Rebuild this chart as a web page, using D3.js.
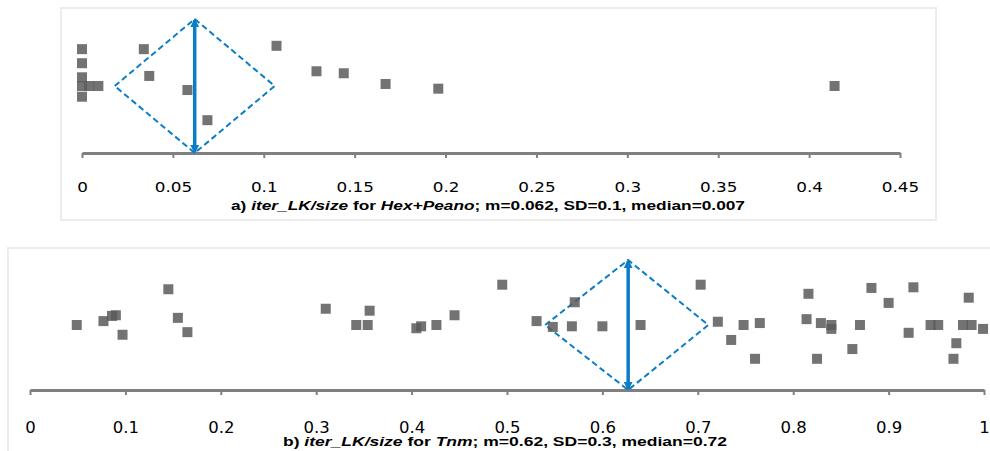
<!DOCTYPE html>
<html>
<head>
<meta charset="utf-8">
<script src="https://cdn.jsdelivr.net/npm/d3@7"></script>
<style>
  body { margin: 0; background: #fff; }
  svg { display: block; }
</style>
</head>
<body>
<div id="container"></div>
<script>
"use strict";

// panel a) Hex+Peano : iter_LK/size, with a vertical jitter for each point
var hexValues = [0, 0, 0, 0, 0.004, 0.009, 0, 0.034, 0.037, 0.058, 0.069, 0.107, 0.129, 0.144, 0.167, 0.196, 0.414];
var hexJitter = [1.55, 1.34, 1.13, 1.0, 1.0, 1.0, 0.84, 1.55, 1.15, 0.94, 0.49, 1.6, 1.22, 1.19, 1.03, 0.96, 1.0];
var hexStats = [0.018, 0.062, 0.106]; // diamond left, mean, right
var hexTicks = [0, 0.05, 0.1, 0.15, 0.2, 0.25, 0.3, 0.35, 0.4, 0.45];
var hexTickLabels = ["0", "0.05", "0.1", "0.15", "0.2", "0.25", "0.3", "0.35", "0.4", "0.45"];

// panel b) Tnm
var tnmValues = [0.049, 0.077, 0.086, 0.090, 0.097, 0.145, 0.155, 0.165, 0.310, 0.342, 0.354, 0.356,
    0.405, 0.410, 0.426, 0.445, 0.495, 0.531, 0.548, 0.571, 0.568, 0.600, 0.640, 0.703, 0.721, 0.735,
    0.748, 0.760, 0.765, 0.816, 0.814, 0.825, 0.829, 0.840, 0.840, 0.862, 0.870, 0.882, 0.900, 0.921,
    0.926, 0.944, 0.952, 0.968, 0.971, 0.978, 0.984, 0.987, 0.999];
var tnmJitter = [1.0, 1.06, 1.14, 1.15, 0.85, 1.55, 1.11, 0.89, 1.25, 1.0, 1.0, 1.22,
    0.95, 0.98, 1.0, 1.15, 1.62, 1.06, 0.97, 1.35, 0.98, 0.98, 1.0, 1.62, 1.05, 0.77,
    1.0, 0.48, 1.03, 1.48, 1.09, 0.48, 1.03, 1.0, 0.94, 0.63, 1.0, 1.57, 1.34, 0.88,
    1.58, 1.0, 1.0, 0.48, 0.72, 1.0, 1.42, 1.0, 0.94];
var tnmStats = [0.54, 0.627, 0.711];
var tnmTicks = [0, 0.1, 0.2, 0.3, 0.4, 0.5, 0.6, 0.7, 0.8, 0.9, 1];
var tnmTickLabels = ["0", "0.1", "0.2", "0.3", "0.4", "0.5", "0.6", "0.7", "0.8", "0.9", "1"];

var blue = "#0b7dc6";
var grey = "#808080";

var svg = d3.select("#container").append("svg")
    .attr("width", 990).attr("height", 451);

var defs = svg.append("defs");
defs.append("marker").attr("id", "arrow")
    .attr("viewBox", "0 0 10 10").attr("refX", 8).attr("refY", 5)
    .attr("markerWidth", 2.6).attr("markerHeight", 2.6)
    .attr("orient", "auto-start-reverse")
    .append("path").attr("d", "M0,0L10,5L0,10z").attr("fill", blue);

function panel(opt) {
    var g = svg.append("g");

    g.append("rect")
        .attr("x", opt.box[0]).attr("y", opt.box[1])
        .attr("width", opt.box[2]).attr("height", opt.box[3])
        .attr("fill", "none").attr("stroke", "#ececec").attr("stroke-width", 2);

    var x = d3.scaleLinear().domain([opt.ticks[0], opt.ticks[opt.ticks.length - 1]]).range(opt.xRange);
    var y = d3.scaleLinear().domain([0, 2]).range(opt.yRange);

    var axis = d3.axisBottom(x)
        .tickValues(opt.ticks)
        .tickFormat(function (d, i) { return opt.labels[i]; })
        .tickSize(5).tickSizeOuter(0).tickPadding(opt.pad);

    var ax = g.append("g").attr("transform", "translate(0," + y(0) + ")").call(axis);
    ax.select(".domain").attr("stroke", grey).attr("stroke-width", 3);
    ax.selectAll(".tick line").attr("stroke", grey).attr("stroke-width", 2);
    ax.selectAll(".tick text")
        .attr("fill", "#000")
        .style("font-family", "DejaVu Sans")
        .style("font-size", opt.fontSize + "px")
        .attr("transform", "scale(" + opt.stretch + ",1)");

    // diamond
    var s = opt.stats;
    var pts = [[s[0], 1], [s[1], 2], [s[2], 1], [s[1], 0]];
    g.append("path")
        .attr("d", d3.line().x(function (d) { return x(d[0]); }).y(function (d) { return y(d[1]); })
            .curve(d3.curveLinearClosed)(pts))
        .attr("fill", "none").attr("stroke", blue).attr("stroke-width", 2)
        .attr("stroke-dasharray", "6,3.5");

    // points
    var data = opt.values.map(function (v, i) { return { v: v, j: opt.jitter[i] }; });
    g.selectAll("rect.pt").data(data).enter().append("rect")
        .attr("class", "pt")
        .attr("x", function (d) { return x(d.v) - 5; })
        .attr("y", function (d) { return y(d.j) - 5; })
        .attr("width", 10).attr("height", 10)
        .attr("fill", "#5a5a5a").attr("fill-opacity", 0.85);

    // mean line
    g.append("line")
        .attr("x1", x(s[1])).attr("x2", x(s[1]))
        .attr("y1", y(0) - 1).attr("y2", y(2) + 1)
        .attr("stroke", blue).attr("stroke-width", 3.5)
        .attr("marker-start", "url(#arrow)").attr("marker-end", "url(#arrow)");

    // caption
    var cap = g.append("text")
        .attr("x", opt.caption.x).attr("y", opt.caption.y)
        .attr("textLength", opt.caption.w).attr("lengthAdjust", "spacingAndGlyphs")
        .style("font-family", "Liberation Sans, Arial, sans-serif")
        .style("font-weight", "bold")
        .style("font-size", opt.caption.size + "px");
    opt.caption.parts.forEach(function (p) {
        cap.append("tspan").text(p[0]).style("font-style", p[1] ? "italic" : "normal");
    });
}

panel({
    box: [61, 8, 875, 212],
    xRange: [82, 900], yRange: [153, 19],
    ticks: hexTicks, labels: hexTickLabels,
    values: hexValues, jitter: hexJitter, stats: hexStats,
    pad: 24, fontSize: 14, stretch: 1.2,
    caption: {
        x: 231, y: 210, w: 514, size: 13,
        parts: [["a) ", 0], ["iter_LK/size", 1], [" for ", 0], ["Hex+Peano", 1], ["; m=0.062, SD=0.1, median=0.007", 0]]
    }
});

panel({
    box: [8, 248, 1000, 220],
    xRange: [30, 984], yRange: [390, 260],
    ticks: tnmTicks, labels: tnmTickLabels,
    values: tnmValues, jitter: tnmJitter, stats: tnmStats,
    pad: 26, fontSize: 16.5, stretch: 1,
    caption: {
        x: 283, y: 446, w: 444, size: 13.5,
        parts: [["b) ", 0], ["iter_LK/size", 1], [" for ", 0], ["Tnm", 1], ["; m=0.62, SD=0.3, median=0.72", 0]]
    }
});
</script>
</body>
</html>
